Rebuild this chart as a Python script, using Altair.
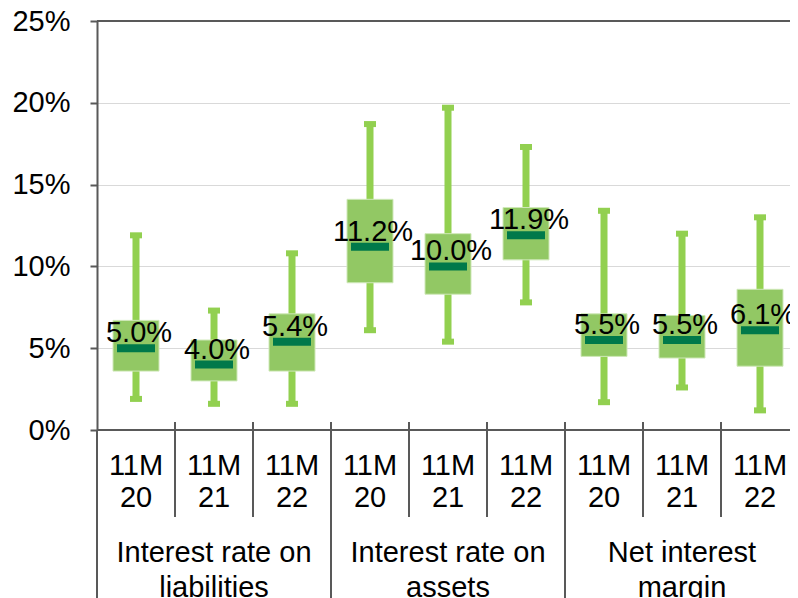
import altair as alt
import pandas as pd

# ---- data ----
years = ["20", "21", "22", "20", "21", "22", "20", "21", "22"]
group_line1 = ["Interest rate on", "Interest rate on", "Net interest"]
group_line2 = ["liabilities", "assets", "margin"]
mins = [1.9, 1.6, 1.6, 6.1, 5.4, 7.8, 1.7, 2.6, 1.2]
q1 = [3.6, 3.0, 3.6, 9.0, 8.3, 10.4, 4.5, 4.4, 3.9]
med = [5.0, 4.0, 5.4, 11.2, 10.0, 11.9, 5.5, 5.5, 6.1]
q3 = [6.7, 5.5, 7.1, 14.1, 12.0, 13.6, 7.1, 7.0, 8.6]
maxs = [11.9, 7.3, 10.8, 18.7, 19.7, 17.3, 13.4, 12.0, 13.0]
y_ticks = [0, 5, 10, 15, 20, 25]
inner_bounds = [1, 2, 4, 5, 7, 8]
group_bounds = [3, 6]
group_centers = [1.5, 4.5, 7.5]

# ---- layout ----
PX = 78.0          # pixels per category
W = 693
H = 409
XMAX = W / PX
FONT = "Liberation Sans"
FS = 29
GREEN = "#92D050"
BOX = "#92C864"
DARK = "#00794A"
AXIS = "#595959"

df = pd.DataFrame({
    "pos": [k + 0.5 for k in range(9)],
    "year": years,
    "lo": mins, "q1": q1, "med": med, "q3": q3, "hi": maxs,
})
df["label"] = [f"{v:.1f}%" for v in med]
df["top"] = "11M"

sep_in = pd.DataFrame({"b": inner_bounds})
sep_grp = pd.DataFrame({"b": group_bounds})
grp = pd.DataFrame({"pos": group_centers, "l1": group_line1, "l2": group_line2})

xs = alt.Scale(domain=[0, XMAX], nice=False, zero=False)
ys = alt.Scale(domain=[0, 25], nice=False, zero=True)

base = alt.Chart(df).transform_calculate(
    box_l=f"datum.pos - {23 / PX}", box_r=f"datum.pos + {23 / PX}",
    cap_l=f"datum.pos - {6 / PX}", cap_r=f"datum.pos + {6 / PX}",
    med_l=f"datum.pos - {19 / PX}", med_r=f"datum.pos + {19 / PX}",
)

yaxis = alt.Axis(values=y_ticks, labelExpr="datum.value + '%'", labelFontSize=FS,
                 labelFont=FONT, labelColor="black", tickSize=7, tickColor=AXIS,
                 tickWidth=2, domainColor=AXIS, domainWidth=2, gridColor="#d9d9d9",
                 gridWidth=1, labelPadding=20, title=None, grid=True)

whisk = base.mark_rule(color=GREEN, strokeWidth=7).encode(
    x=alt.X("pos:Q", scale=xs, axis=None),
    y=alt.Y("lo:Q", scale=ys, axis=yaxis),
    y2="hi:Q",
)
cap_hi = base.mark_rule(color=GREEN, strokeWidth=6).encode(
    x=alt.X("cap_l:Q", scale=xs, axis=None), x2="cap_r:Q",
    y=alt.Y("hi:Q", scale=ys),
)
cap_lo = base.mark_rule(color=GREEN, strokeWidth=6).encode(
    x=alt.X("cap_l:Q", scale=xs, axis=None), x2="cap_r:Q",
    y=alt.Y("lo:Q", scale=ys),
)
box = base.mark_rect(color=BOX, stroke="#cfe8b8", strokeWidth=1).encode(
    x=alt.X("box_l:Q", scale=xs, axis=None), x2="box_r:Q",
    y=alt.Y("q1:Q", scale=ys), y2="q3:Q",
)
median = base.mark_rule(color=DARK, strokeWidth=8).encode(
    x=alt.X("med_l:Q", scale=xs, axis=None), x2="med_r:Q",
    y=alt.Y("med:Q", scale=ys),
)
labels = base.mark_text(font=FONT, fontSize=FS, color="black", dy=-6, dx=3,
                        baseline="alphabetic").encode(
    x=alt.X("pos:Q", scale=xs, axis=None),
    y=alt.Y("med:Q", scale=ys),
    text="label:N",
)

xline = alt.Chart(df).mark_rule(color=AXIS, strokeWidth=2).encode(
    x=alt.value(0), x2=alt.value(W), y=alt.value(H))
topline = alt.Chart(df).mark_rule(color=AXIS, strokeWidth=2).encode(
    x=alt.value(0), x2=alt.value(W), y=alt.value(0))
leftext = alt.Chart(df).mark_rule(color=AXIS, strokeWidth=2).encode(
    x=alt.value(0), y=alt.value(H), y2=alt.value(H + 180))

sin = alt.Chart(sep_in).mark_rule(color=AXIS, strokeWidth=2).encode(
    x=alt.X("b:Q", scale=xs, axis=None), y=alt.value(H - 8), y2=alt.value(H + 87))
sgr = alt.Chart(sep_grp).mark_rule(color=AXIS, strokeWidth=2).encode(
    x=alt.X("b:Q", scale=xs, axis=None), y=alt.value(H - 8), y2=alt.value(H + 180))

t11 = alt.Chart(df).mark_text(font=FONT, fontSize=FS, color="black",
                              baseline="alphabetic").encode(
    x=alt.X("pos:Q", scale=xs, axis=None), y=alt.value(454), text="top:N")
tyr = alt.Chart(df).mark_text(font=FONT, fontSize=FS, color="black",
                              baseline="alphabetic").encode(
    x=alt.X("pos:Q", scale=xs, axis=None), y=alt.value(486), text="year:N")
g1 = alt.Chart(grp).mark_text(font=FONT, fontSize=FS, color="black",
                              baseline="alphabetic").encode(
    x=alt.X("pos:Q", scale=xs, axis=None), y=alt.value(541), text="l1:N")
g2 = alt.Chart(grp).mark_text(font=FONT, fontSize=FS, color="black",
                              baseline="alphabetic").encode(
    x=alt.X("pos:Q", scale=xs, axis=None), y=alt.value(576), text="l2:N")

chart = alt.layer(
    whisk, cap_hi, cap_lo, box, median, labels,
    xline, topline, leftext, sin, sgr, t11, tyr, g1, g2,
).properties(
    width=W, height=H,
    autosize=alt.AutoSizeParams(type="none"),
    padding={"left": 89, "top": 13, "right": 0, "bottom": 168},
).configure_view(stroke=None)

chart.save("out.html", embed_options={"renderer": "svg", "actions": False})
